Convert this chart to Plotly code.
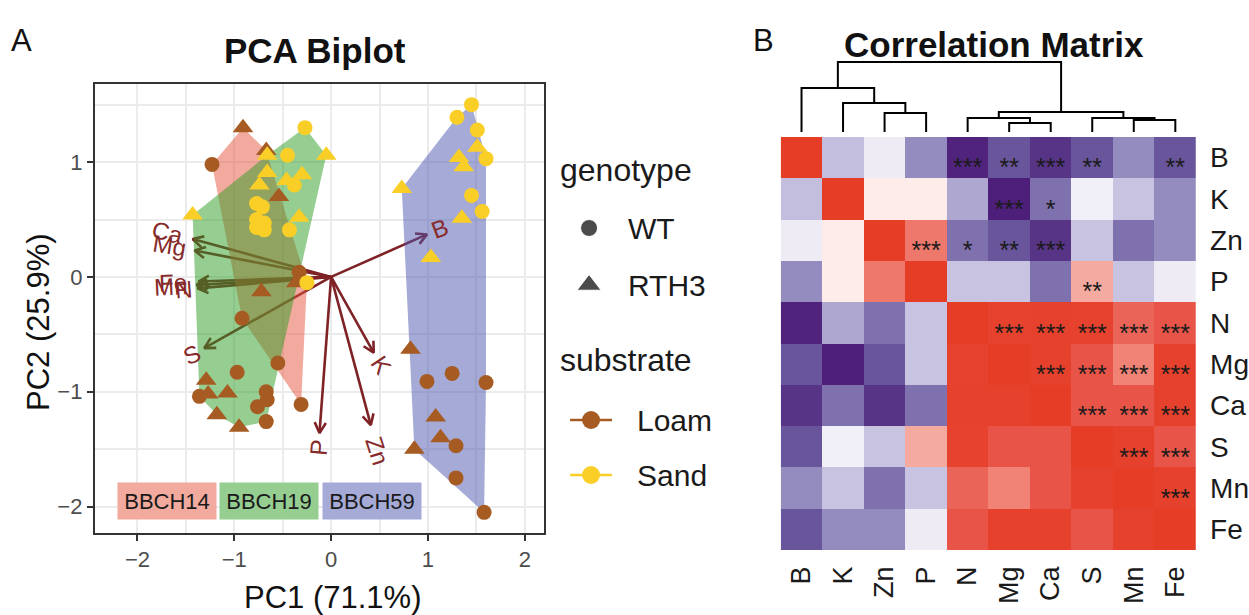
import math
import plotly.graph_objects as go

W, H = 1249, 615
FONT = "Liberation Sans, Arial, sans-serif"

# ---------------- Panel A: PCA biplot data ----------------
stages = ["BBCH14", "BBCH19", "BBCH59"]

bbch14_pc1 = [-1.23, -0.91, -0.67, -0.54, -0.33, -0.25, -0.72, -0.92, -0.55, -0.31, -0.77, -0.71]
bbch14_pc2 = [0.98, 1.30, 1.10, 0.70, 0.04, -0.05, -0.13, -0.36, -0.75, -1.11, 0.64, 0.61]
bbch14_substrate = ["Loam", "Loam", "Loam", "Loam", "Loam", "Sand", "Loam", "Loam", "Loam", "Loam", "Sand", "Sand"]
bbch14_genotype = ["WT", "RTH3", "RTH3", "RTH3", "WT", "WT", "RTH3", "WT", "WT", "WT", "WT", "WT"]

bbch19_pc1 = [-0.27, -0.05, -0.66, -0.45, -0.66, -0.74, -0.46, -0.30, -0.38, -1.43, -0.33, -0.43, -0.77, -0.69,
              -0.77, -0.69, -0.36, -0.97, -1.29, -1.07, -1.36, -1.27, -1.18, -0.95, -0.67, -0.66, -0.76, -0.67]
bbch19_pc2 = [1.30, 1.06, 1.06, 1.06, 0.91, 0.80, 0.84, 0.89, 0.80, 0.54, 0.52, 0.41, 0.50, 0.47,
              0.43, 0.41, -0.05, -0.83, -0.90, -1.01, -1.04, -1.02, -1.20, -1.31, -1.00, -1.07, -1.13, -1.26]
bbch19_substrate = ["Sand", "Sand", "Sand", "Sand", "Sand", "Sand", "Sand", "Sand", "Sand", "Sand", "Sand", "Sand",
                    "Sand", "Sand", "Sand", "Sand", "Loam", "Loam", "Loam", "Loam", "Loam", "Loam", "Loam", "Loam",
                    "Loam", "Loam", "Loam", "Loam"]
bbch19_genotype = ["WT", "RTH3", "RTH3", "WT", "RTH3", "RTH3", "RTH3", "RTH3", "WT", "RTH3", "RTH3", "WT",
                   "WT", "WT", "WT", "WT", "RTH3", "WT", "RTH3", "RTH3", "WT", "RTH3", "RTH3", "RTH3",
                   "WT", "WT", "WT", "WT"]

bbch59_pc1 = [1.45, 1.30, 1.51, 1.51, 1.60, 1.32, 1.37, 0.73, 1.45, 1.56, 1.35, 1.03,
              0.82, 0.99, 1.25, 1.60, 1.08, 1.13, 1.29, 0.86, 1.29, 1.58]
bbch59_pc2 = [1.50, 1.39, 1.28, 1.13, 1.03, 1.04, 0.96, 0.77, 0.71, 0.57, 0.51, 0.17,
              -0.63, -0.91, -0.84, -0.92, -1.22, -1.40, -1.47, -1.50, -1.75, -2.05]
bbch59_substrate = ["Sand", "Sand", "Sand", "Sand", "Sand", "Sand", "Sand", "Sand", "Sand", "Sand", "Sand", "Sand",
                    "Loam", "Loam", "Loam", "Loam", "Loam", "Loam", "Loam", "Loam", "Loam", "Loam"]
bbch59_genotype = ["WT", "WT", "WT", "RTH3", "WT", "RTH3", "RTH3", "RTH3", "WT", "WT", "RTH3", "RTH3",
                   "RTH3", "WT", "WT", "WT", "RTH3", "RTH3", "WT", "RTH3", "WT", "WT"]

# variable loadings (arrow tips)
variables = ["B", "K", "Zn", "P", "N", "Mg", "Ca", "S", "Mn", "Fe"]
load_pc1 = [0.99, 0.44, 0.41, -0.12, -1.38, -1.41, -1.43, -1.31, -1.39, -1.37]
load_pc2 = [0.37, -0.66, -1.29, -1.36, -0.10, 0.23, 0.33, -0.62, -0.07, -0.04]

pc1_label = "PC1 (71.1%)"
pc2_label = "PC2 (25.9%)"
x_ticks = [-2, -1, 0, 1, 2]
y_ticks = [-2, -1, 0, 1]
stage_label_pc1 = [-1.69, -0.64, 0.42]
stage_label_pc2 = -1.95

genotypes = ["WT", "RTH3"]
substrates = ["Loam", "Sand"]

# ---------------- Panel B: correlation matrix data ----------------
elements = ["B", "K", "Zn", "P", "N", "Mg", "Ca", "S", "Mn", "Fe"]
corr_B = [1.00, -0.32, -0.10, -0.50, -0.85, -0.70, -0.80, -0.70, -0.50, -0.70]
corr_K = [-0.32, 1.00, 0.05, 0.05, -0.40, -0.88, -0.60, -0.08, -0.30, -0.50]
corr_Zn = [-0.10, 0.05, 1.00, 0.60, -0.60, -0.70, -0.80, -0.30, -0.60, -0.50]
corr_P = [-0.50, 0.05, 0.60, 1.00, -0.30, -0.30, -0.60, 0.35, -0.30, -0.10]
corr_N = [-0.85, -0.40, -0.60, -0.30, 1.00, 0.90, 0.92, 0.90, 0.70, 0.80]
corr_Mg = [-0.70, -0.88, -0.70, -0.30, 0.90, 1.00, 0.93, 0.80, 0.55, 0.92]
corr_Ca = [-0.80, -0.60, -0.80, -0.60, 0.92, 0.93, 1.00, 0.80, 0.80, 0.92]
corr_S = [-0.70, -0.08, -0.30, 0.35, 0.90, 0.80, 0.80, 1.00, 0.92, 0.80]
corr_Mn = [-0.50, -0.30, -0.60, -0.30, 0.70, 0.55, 0.80, 0.92, 1.00, 0.92]
corr_Fe = [-0.70, -0.50, -0.50, -0.10, 0.80, 0.92, 0.92, 0.80, 0.92, 1.00]
corr = [corr_B, corr_K, corr_Zn, corr_P, corr_N, corr_Mg, corr_Ca, corr_S, corr_Mn, corr_Fe]

sig_B = ["", "", "", "", "***", "**", "***", "**", "", "**"]
sig_K = ["", "", "", "", "", "***", "*", "", "", ""]
sig_Zn = ["", "", "", "***", "*", "**", "***", "", "", ""]
sig_P = ["", "", "", "", "", "", "", "**", "", ""]
sig_N = ["", "", "", "", "", "***", "***", "***", "***", "***"]
sig_Mg = ["", "", "", "", "", "", "***", "***", "***", "***"]
sig_Ca = ["", "", "", "", "", "", "", "***", "***", "***"]
sig_S = ["", "", "", "", "", "", "", "", "***", "***"]
sig_Mn = ["", "", "", "", "", "", "", "", "", "***"]
sig_Fe = ["", "", "", "", "", "", "", "", "", ""]
sig = [sig_B, sig_K, sig_Zn, sig_P, sig_N, sig_Mg, sig_Ca, sig_S, sig_Mn, sig_Fe]

# dendrogram: (height, left, right), leaves by name
dendro = (1.40,
          (0.88, "B", (0.58, "K", (0.38, "Zn", "P"))),
          (0.40, (0.28, "N", (0.18, "Mg", "Ca")), (0.28, "S", (0.24, "Mn", "Fe"))))

# ---------------- styling ----------------
LOAM = "#A65B22"
SAND = "#F9CF27"
ARROW = "#7E2226"
hull_fill = ["rgba(229,85,61,0.5)", "rgba(45,155,35,0.5)", "rgba(75,85,175,0.5)"]
label_fill = ["rgb(242,170,158)", "rgb(150,205,145)", "rgb(165,170,215)"]

x_range = [-2.44, 2.2]
y_range = [-2.23, 1.68]
A_L, A_R, A_T, A_B = 95, 545, 84, 533
sx = (A_R - A_L) / (x_range[1] - x_range[0])
sy = (A_B - A_T) / (y_range[1] - y_range[0])

HM_L, HM_R, HM_T, HM_B = 782, 1198, 137, 550
D_BASE, D_UNIT = 132, 50.0


def PX(p):
    return p / W


def PY(p):
    return 1 - p / H


def hull(xs, ys):
    pts = sorted(set(zip(xs, ys)))

    def cross(o, a, b):
        return (a[0] - o[0]) * (b[1] - o[1]) - (a[1] - o[1]) * (b[0] - o[0])
    lower, upper = [], []
    for p in pts:
        while len(lower) >= 2 and cross(lower[-2], lower[-1], p) <= 0:
            lower.pop()
        lower.append(p)
    for p in reversed(pts):
        while len(upper) >= 2 and cross(upper[-2], upper[-1], p) <= 0:
            upper.pop()
        upper.append(p)
    h = lower[:-1] + upper[:-1]
    h.append(h[0])
    return [p[0] for p in h], [p[1] for p in h]


fig = go.Figure()

# arrows (under hulls)
arr_x, arr_y = [], []
head_len = 12
head_ang = math.radians(28)
for vx, vy in zip(load_pc1, load_pc2):
    arr_x += [0, vx, None]
    arr_y += [0, vy, None]
    dxp, dyp = vx * sx, vy * sy
    L = math.hypot(dxp, dyp)
    ux, uy = dxp / L, dyp / L
    hx, hy = [], []
    for a in (head_ang, -head_ang):
        bx = (-ux * math.cos(a) + uy * math.sin(a)) * head_len
        by = (-ux * math.sin(a) - uy * math.cos(a)) * head_len
        hx.append(vx + bx / sx)
        hy.append(vy + by / sy)
    arr_x += [hx[0], vx, hx[1], None]
    arr_y += [hy[0], vy, hy[1], None]
fig.add_trace(go.Scatter(x=arr_x, y=arr_y, mode="lines", line=dict(color=ARROW, width=2.6),
                         hoverinfo="skip", showlegend=False, xaxis="x", yaxis="y"))

# hulls
stage_pc1 = [bbch14_pc1, bbch19_pc1, bbch59_pc1]
stage_pc2 = [bbch14_pc2, bbch19_pc2, bbch59_pc2]
stage_sub = [bbch14_substrate, bbch19_substrate, bbch59_substrate]
stage_gen = [bbch14_genotype, bbch19_genotype, bbch59_genotype]
for i in range(3):
    hx, hy = hull(stage_pc1[i], stage_pc2[i])
    fig.add_trace(go.Scatter(x=hx, y=hy, mode="lines", fill="toself", fillcolor=hull_fill[i],
                             line=dict(width=0), hoverinfo="skip", showlegend=False,
                             xaxis="x", yaxis="y"))

# points
for sub, col in zip(substrates, [LOAM, SAND]):
    for gen, sym, size in zip(genotypes, ["circle", "triangle-up"], [15, 18]):
        xs, ys = [], []
        for i in range(3):
            for x, y, s, g in zip(stage_pc1[i], stage_pc2[i], stage_sub[i], stage_gen[i]):
                if s == sub and g == gen:
                    xs.append(x)
                    ys.append(y)
        fig.add_trace(go.Scatter(x=xs, y=ys, mode="markers",
                                 marker=dict(symbol=sym, size=size, color=col, line=dict(width=0)),
                                 showlegend=False, xaxis="x", yaxis="y"))

annotations = []
# variable labels
for name, vx, vy in zip(variables, load_pc1, load_pc2):
    dxp, dyp = vx * sx, vy * sy
    L = math.hypot(dxp, dyp)
    off = 2 + 12 * len(name)
    cx = vx + dxp / L * off / sx
    cy = vy + dyp / L * off / sy
    ang = -math.degrees(math.atan(vy / vx))
    annotations.append(dict(x=cx, y=cy, xref="x", yref="y", text=name, showarrow=False,
                            textangle=ang, xanchor="center", yanchor="middle",
                            font=dict(family=FONT, size=24, color="#862A2A")))

# stage labels
for name, lx, fc in zip(stages, stage_label_pc1, label_fill):
    annotations.append(dict(x=lx, y=stage_label_pc2, xref="x", yref="y", text=name, showarrow=False,
                            bgcolor=fc, width=96, height=34, xanchor="center", yanchor="middle",
                            font=dict(family=FONT, size=22, color="#1a1a1a")))

# heatmap
colorscale = [
    [0.0, "rgb(65,15,110)"], [0.075, "rgb(80,35,125)"], [0.15, "rgb(105,85,155)"],
    [0.25, "rgb(148,140,190)"], [0.35, "rgb(200,195,225)"], [0.45, "rgb(238,235,245)"],
    [0.5, "rgb(255,255,255)"], [0.525, "rgb(253,236,234)"], [0.675, "rgb(245,170,160)"],
    [0.775, "rgb(240,130,118)"], [0.85, "rgb(235,100,88)"], [0.9, "rgb(232,85,72)"],
    [0.95, "rgb(230,66,46)"], [1.0, "rgb(230,62,38)"]]
idx = list(range(len(elements)))
fig.add_trace(go.Heatmap(z=corr, x=idx, y=idx, colorscale=colorscale, zmin=-1, zmax=1,
                         showscale=False, xaxis="x2", yaxis="y2", hoverinfo="skip"))
sx_, sy_, st_ = [], [], []
for r in idx:
    for c in idx:
        if sig[r][c]:
            sx_.append(c)
            sy_.append(r)
            st_.append(sig[r][c])
fig.add_trace(go.Scatter(x=sx_, y=sy_, text=st_, mode="text", textposition="bottom center",
                         textfont=dict(family=FONT, size=25, color="#1a1a1a"),
                         showlegend=False, xaxis="x2", yaxis="y2", hoverinfo="skip"))

# dendrogram
dx, dy = [], []


def draw(node):
    if isinstance(node, str):
        return elements.index(node), 0.0
    h, left, right = node
    xl, hl = draw(left)
    xr, hr = draw(right)
    dx.extend([xl, xl, xr, xr, None])
    dy.extend([hl, h, h, hr, None])
    return (xl + xr) / 2, h


draw(dendro)
fig.add_trace(go.Scatter(x=dx, y=dy, mode="lines", line=dict(color="black", width=2),
                         showlegend=False, xaxis="x3", yaxis="y3", hoverinfo="skip"))

# legend (overlay axis in pixel units)
leg_gen_y = [228, 285]
leg_sub_y = [420, 475]
fig.add_trace(go.Scatter(x=[590, 590], y=leg_gen_y, mode="markers",
                         marker=dict(symbol=["circle", "triangle-up"], size=[17, 21], color="black"),
                         showlegend=False, xaxis="x4", yaxis="y4", hoverinfo="skip"))
for yy, col in zip(leg_sub_y, [LOAM, SAND]):
    fig.add_trace(go.Scatter(x=[571, 592, 613], y=[yy, yy, yy], mode="lines",
                             line=dict(color=col, width=2.5), showlegend=False,
                             xaxis="x4", yaxis="y4", hoverinfo="skip"))
    fig.add_trace(go.Scatter(x=[592], y=[yy], mode="markers", marker=dict(size=18, color=col),
                             showlegend=False, xaxis="x4", yaxis="y4", hoverinfo="skip"))
for lab, yy in zip(genotypes, leg_gen_y):
    annotations.append(dict(x=PX(627), y=PY(yy), xref="paper", yref="paper", text=lab, showarrow=False,
                            xanchor="left", yanchor="middle", font=dict(family=FONT, size=30, color="#1a1a1a")))
for lab, yy in zip(substrates, leg_sub_y):
    annotations.append(dict(x=PX(636), y=PY(yy), xref="paper", yref="paper", text=lab, showarrow=False,
                            xanchor="left", yanchor="middle", font=dict(family=FONT, size=30, color="#1a1a1a")))
for lab, yy in zip(["genotype", "substrate"], [170, 360]):
    annotations.append(dict(x=PX(559), y=PY(yy), xref="paper", yref="paper", text=lab, showarrow=False,
                            xanchor="left", yanchor="middle", font=dict(family=FONT, size=32, color="#1a1a1a")))

# titles / panel letters / axis titles
for txt, x, y, size, ang in [
    ("A", 22, 40, 31, 0), ("B", 765, 40, 31, 0),
    ("<b>PCA Biplot</b>", 316, 50, 35, 0), ("<b>Correlation Matrix</b>", 996, 45, 35, 0),
    (pc1_label, 333, 597, 31, 0), (pc2_label, 38, 322, 31, -90)]:
    annotations.append(dict(x=PX(x), y=PY(y), xref="paper", yref="paper", text=txt, showarrow=False,
                            xanchor="center", yanchor="middle", textangle=ang,
                            font=dict(family=FONT, size=size, color="#111")))

axis_common = dict(showline=True, linecolor="#333333", linewidth=2, mirror=True, ticks="outside",
                   ticklen=6, tickwidth=2, tickcolor="#333333", showgrid=True, gridcolor="#EBEBEB",
                   gridwidth=2, zeroline=False, tickfont=dict(family=FONT, size=22, color="#4D4D4D"))

fig.update_layout(
    width=W, height=H, autosize=False, margin=dict(l=0, r=0, t=0, b=0),
    paper_bgcolor="white", plot_bgcolor="rgba(0,0,0,0)", showlegend=False,
    font=dict(family=FONT),
    xaxis=dict(domain=[PX(A_L), PX(A_R)], range=x_range, tickvals=x_ticks,
               ticktext=[str(v).replace("-", "\u2212") for v in x_ticks],
               minor=dict(tickvals=[-1.5, -0.5, 0.5, 1.5], showgrid=True, gridcolor="#EBEBEB",
                          gridwidth=1.6, ticks=""),
               anchor="y", **axis_common),
    yaxis=dict(domain=[PY(A_B), PY(A_T)], range=y_range, tickvals=y_ticks,
               ticktext=[str(v).replace("-", "\u2212") for v in y_ticks],
               minor=dict(tickvals=[-1.5, -0.5, 0.5, 1.5], showgrid=True, gridcolor="#EBEBEB",
                          gridwidth=1.6, ticks=""),
               anchor="x", **axis_common),
    xaxis2=dict(domain=[PX(HM_L), PX(HM_R)], range=[-0.5, 9.5], tickvals=idx, ticktext=elements,
                tickangle=-90, showgrid=False, zeroline=False, showline=False, ticks="",
                ticklabelstandoff=10, anchor="y2",
                tickfont=dict(family=FONT, size=27, color="#1a1a1a")),
    yaxis2=dict(domain=[PY(HM_B), PY(HM_T)], range=[9.5, -0.5], tickvals=idx, ticktext=elements,
                side="right", showgrid=False, zeroline=False, showline=False, ticks="",
                ticklabelstandoff=13, anchor="x2",
                tickfont=dict(family=FONT, size=28, color="#1a1a1a")),
    xaxis3=dict(domain=[PX(HM_L), PX(HM_R)], range=[-0.5, 9.5], visible=False, anchor="y3"),
    yaxis3=dict(domain=[PY(D_BASE), PY(D_BASE - 1.5 * D_UNIT)], range=[0, 1.5], visible=False, anchor="x3"),
    xaxis4=dict(domain=[0, 1], range=[0, W], visible=False, anchor="y4"),
    yaxis4=dict(domain=[0, 1], range=[H, 0], visible=False, anchor="x4"),
    annotations=annotations,
)

fig.write_html("out.html", config={"displayModeBar": False},
               post_script="document.body.style.margin='0';document.body.style.overflow='hidden';")
